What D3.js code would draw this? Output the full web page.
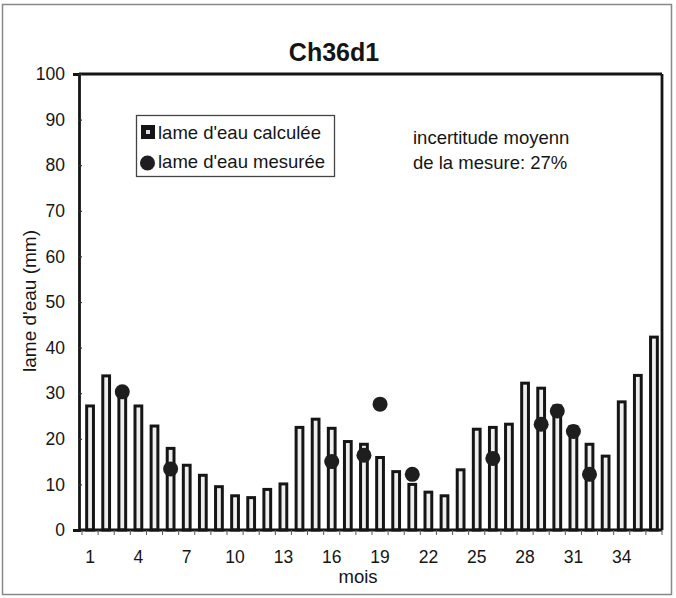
<!DOCTYPE html>
<html><head><meta charset="utf-8">
<script src="https://cdn.jsdelivr.net/npm/d3@7"></script>
<style>body{margin:0;background:#fff}svg{display:block;font-family:"Liberation Sans",Arial,sans-serif}</style>
</head><body><svg id="c" width="676" height="598"></svg>
<script>
const months = d3.range(1, 37);
const calculee = [27.2,33.8,29.3,27.2,22.8,17.9,14.2,12,9.5,7.5,7.1,8.9,10.1,22.5,24.3,22.3,19.4,18.8,15.9,12.8,10,8.3,7.5,13.2,22.1,22.5,23.2,32.2,31.1,27.2,22.7,18.8,16.2,28.1,33.9,42.3];
const mesureMonths = [3,6,16,18,19,21,26,29,30,31,32];
const mesureValues = [30.3,13.4,15,16.4,27.6,12.2,15.7,23.2,26.1,21.6,12.2];
const yTicks = [0,10,20,30,40,50,60,70,80,90,100];
const xTickLabels = [1,4,7,10,13,16,19,22,25,28,31,34];

const svg = d3.select("#c");
const L = 79, R = 662, T = 74, B = 530;
const x = d3.scaleBand().domain(months).range([82, 662]).paddingInner(0.58).paddingOuter(0.29);
const y = d3.scaleLinear().domain([0,100]).range([B, T]);
const ink = "#151515";
const FF = "Liberation Sans, Arial, sans-serif";

svg.append("rect").attr("x",2.5).attr("y",4.5).attr("width",669).attr("height",590)
  .attr("fill","none").attr("stroke","#888").attr("stroke-width",1.5);

svg.append("text").attr("x",334).attr("y",61).attr("text-anchor","middle")
  .attr("font-size",25).attr("font-weight","bold").attr("fill",ink).text("Ch36d1");

svg.append("line").attr("x1",L).attr("x2",R).attr("y1",T).attr("y2",T).attr("stroke",ink).attr("stroke-width",2.8);
svg.append("line").attr("x1",R).attr("x2",R).attr("y1",T).attr("y2",B).attr("stroke",ink).attr("stroke-width",2.8);

svg.append("g").selectAll("rect").data(months).join("rect")
  .attr("x", d => x(d)).attr("width", x.bandwidth())
  .attr("y", (d,i) => y(calculee[i])).attr("height", (d,i) => B - y(calculee[i]))
  .attr("fill","#eeeeee").attr("stroke",ink).attr("stroke-width",3);

const ya = svg.append("g").attr("transform",`translate(${L},0)`)
  .call(d3.axisLeft(y).tickValues(yTicks).tickSize(6).tickPadding(8));
ya.select(".domain").attr("stroke",ink).attr("stroke-width",2.8);
ya.selectAll(".tick line").attr("stroke","#333").attr("stroke-width",1.2).attr("x2",3);
ya.selectAll(".tick text").attr("font-size",17.5).attr("fill",ink).attr("font-family",FF);

const xa = svg.append("g").attr("transform",`translate(0,${B})`)
  .call(d3.axisBottom(x).tickValues(xTickLabels).tickSize(0).tickPadding(21));
xa.select(".domain").remove();
xa.selectAll(".tick text").attr("font-size",17.5).attr("fill",ink).attr("font-family",FF);
svg.append("line").attr("x1",L).attr("x2",R).attr("y1",B).attr("y2",B).attr("stroke",ink).attr("stroke-width",2.8);
const step = x.step();
const b0 = x(1) - (step - x.bandwidth())/2;
svg.append("g").selectAll("line").data(d3.range(0,37)).join("line")
  .attr("x1", d => b0 + d*step).attr("x2", d => b0 + d*step)
  .attr("y1", B).attr("y2", B+5).attr("stroke","#555").attr("stroke-width",1);

svg.append("g").selectAll("circle").data(mesureMonths).join("circle")
  .attr("cx", d => x(d) + x.bandwidth()/2).attr("cy", (d,i) => y(mesureValues[i]))
  .attr("r", 7.5).attr("fill","#1e1e1e");

svg.append("text").attr("transform","translate(36,301) rotate(-90)").attr("text-anchor","middle")
  .attr("font-size",19).attr("fill",ink).text("lame d'eau (mm)");
svg.append("text").attr("x",358).attr("y",583).attr("text-anchor","middle")
  .attr("font-size",18.5).attr("fill",ink).text("mois");

const lg = svg.append("g");
lg.append("rect").attr("x",136.5).attr("y",115.5).attr("width",198).attr("height",61)
  .attr("fill","#fff").attr("stroke","#444").attr("stroke-width",1.3);
lg.append("rect").attr("x",141).attr("y",125).attr("width",14).attr("height",14).attr("fill",ink);
lg.append("rect").attr("x",146).attr("y",130).attr("width",4).attr("height",4).attr("fill","#ddd");
lg.append("text").attr("x",158).attr("y",139).attr("font-size",18.5).attr("fill",ink).text("lame d'eau calculée");
lg.append("circle").attr("cx",147.5).attr("cy",163).attr("r",7.5).attr("fill","#1e1e1e");
lg.append("text").attr("x",158).attr("y",168).attr("font-size",18.5).attr("fill",ink).text("lame d'eau mesurée");

svg.append("text").attr("x",413).attr("y",144).attr("font-size",18.5).attr("fill",ink).text("incertitude moyenn");
svg.append("text").attr("x",413).attr("y",169).attr("font-size",18.5).attr("fill",ink).text("de la mesure: 27%");
</script></body></html>
